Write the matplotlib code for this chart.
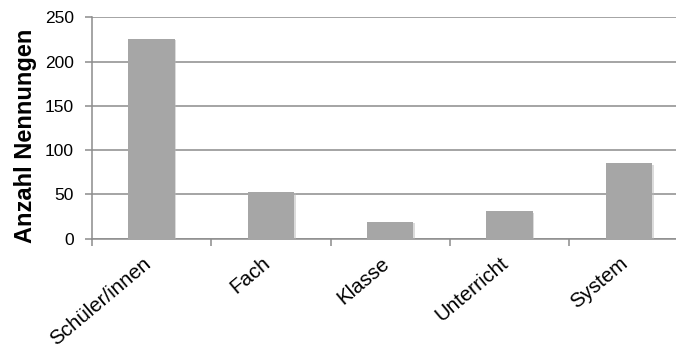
import matplotlib
matplotlib.use("Agg")
import matplotlib.pyplot as plt
import matplotlib.patheffects as pe
import numpy as np

categories = ["Schüler/innen", "Fach", "Klasse", "Unterricht", "System"]
values = [226, 53, 19, 31, 85]
yticks = [0, 50, 100, 150, 200, 250]
ylabel = "Anzahl Nennungen"

plt.rcParams['font.family'] = ['Liberation Sans', 'DejaVu Sans']

fig = plt.figure(figsize=(6.76, 3.49), dpi=100)
ax = fig.add_axes([0.136, 0.316, 0.8825, 0.634])

x = np.arange(len(categories))
bars = ax.bar(x, values, width=0.39, color='#a6a6a6', zorder=3)
for b in bars:
    b.set_path_effects([pe.SimplePatchShadow(offset=(1.0, -1.0), shadow_rgbFace='#b8b8b8', alpha=0.5), pe.Normal()])

ax.set_xlim(-0.5, len(categories) - 0.5)
ax.set_ylim(0, 250)
ax.set_yticks(yticks)
ax.set_yticklabels([str(v) for v in yticks], fontsize=12.5)
ax.yaxis.grid(True, color='#8c8c8c', linewidth=1.1, zorder=0)
ax.set_axisbelow(True)

ax.set_xticks(np.arange(len(categories) + 1) - 0.5)
ax.set_xticklabels([])
ax.set_xticks(x, minor=True)
ax.set_xticklabels(categories, minor=True, rotation=40, ha='right', va='baseline',
                   rotation_mode='anchor', fontsize=14.8)
ax.tick_params(axis='x', which='minor', length=0, pad=19)
ax.tick_params(axis='x', which='major', length=5, color='#8c8c8c', width=1.1)
ax.tick_params(axis='y', length=5, color='#8c8c8c', width=1.1, pad=8)

for s in ['top', 'right']:
    ax.spines[s].set_visible(False)
for s in ['left', 'bottom']:
    ax.spines[s].set_color('#8c8c8c')
    ax.spines[s].set_linewidth(1.1)

ax.set_ylabel(ylabel, fontsize=17, fontweight='bold')
ax.yaxis.set_label_coords(-0.092, 0.464)

fig.savefig('out.png', dpi=100)
